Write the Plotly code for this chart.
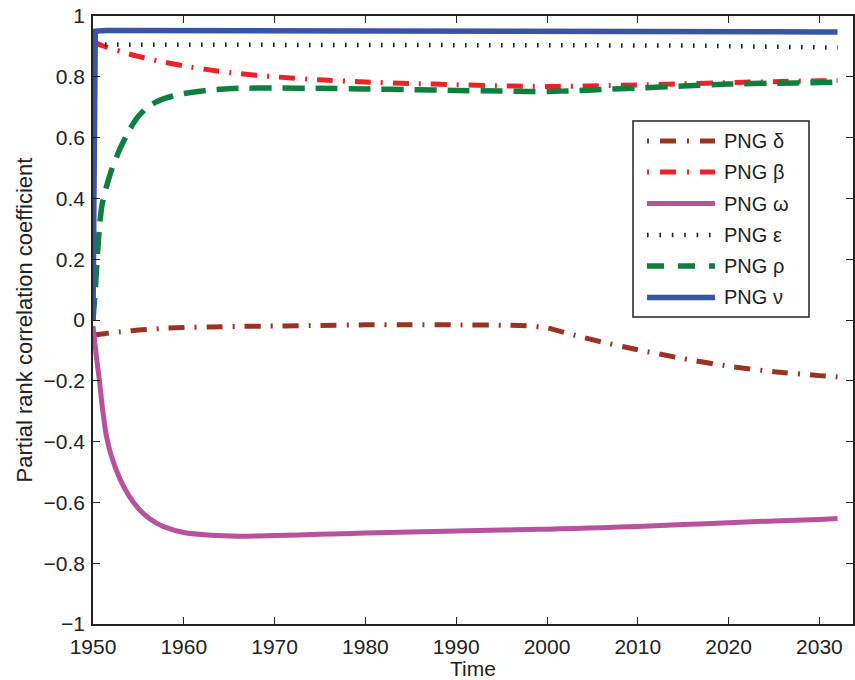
import plotly.graph_objects as go

# ---- data ----
time = [1950, 1950.25, 1950.5, 1950.75, 1951, 1951.5, 1952, 1953, 1954, 1955, 1956, 1957, 1958,
        1960, 1963, 1966, 1970, 1975, 1980, 1985, 1990, 1995, 1998, 2000, 2003, 2006, 2010,
        2015, 2020, 2025, 2030, 2032]

png_delta = [-0.05, -0.049, -0.048, -0.047, -0.046, -0.044, -0.042, -0.039, -0.036, -0.033, -0.031,
             -0.029, -0.027, -0.025, -0.023, -0.021, -0.02, -0.018, -0.016, -0.016, -0.016, -0.017,
             -0.019, -0.026, -0.05, -0.072, -0.098, -0.127, -0.152, -0.17, -0.183, -0.187]

png_beta = [0.915, 0.912, 0.909, 0.906, 0.903, 0.898, 0.893, 0.884, 0.875, 0.867, 0.86, 0.853, 0.847,
            0.836, 0.822, 0.811, 0.80, 0.79, 0.783, 0.778, 0.774, 0.77, 0.769, 0.768, 0.769, 0.771,
            0.773, 0.777, 0.781, 0.784, 0.787, 0.788]

png_omega = [-0.02, -0.09, -0.15, -0.21, -0.28, -0.385, -0.445, -0.525, -0.58, -0.62, -0.648, -0.668,
             -0.682, -0.699, -0.708, -0.711, -0.709, -0.705, -0.701, -0.697, -0.694, -0.691, -0.689,
             -0.688, -0.686, -0.683, -0.679, -0.673, -0.667, -0.661, -0.656, -0.653]

png_epsilon = [0.906, 0.906, 0.906, 0.906, 0.906, 0.906, 0.906, 0.906, 0.906, 0.906, 0.906, 0.906,
               0.906, 0.906, 0.906, 0.906, 0.906, 0.906, 0.906, 0.906, 0.906, 0.906, 0.906, 0.906,
               0.905, 0.905, 0.905, 0.903, 0.901, 0.899, 0.897, 0.896]

png_rho = [0.0, 0.1, 0.22, 0.32, 0.38, 0.44, 0.49, 0.565, 0.625, 0.67, 0.70, 0.718, 0.73, 0.745,
           0.757, 0.762, 0.763, 0.762, 0.76, 0.758, 0.755, 0.753, 0.752, 0.752, 0.754, 0.758,
           0.763, 0.77, 0.776, 0.779, 0.781, 0.782]

png_nu = [0.0, 0.95, 0.951, 0.952, 0.952, 0.952, 0.952, 0.952, 0.952, 0.952, 0.952, 0.952, 0.952,
          0.952, 0.952, 0.952, 0.952, 0.952, 0.952, 0.952, 0.952, 0.951, 0.951, 0.951, 0.951, 0.95,
          0.95, 0.949, 0.949, 0.948, 0.947, 0.947]

series_names = ["PNG δ", "PNG β", "PNG ω", "PNG ε", "PNG ρ", "PNG ν"]

x_ticks = [1950, 1960, 1970, 1980, 1990, 2000, 2010, 2020, 2030]
y_ticks = [-1, -0.8, -0.6, -0.4, -0.2, 0, 0.2, 0.4, 0.6, 0.8, 1]
y_tick_labels = ["\u22121", "\u22120.8", "\u22120.6", "\u22120.4", "\u22120.2", "0",
                 "0.2", "0.4", "0.6", "0.8", "1"]

# ---- styles ----
colors = ["#9a3322", "#ec2229", "#b8519e", "#222222", "#0f7f3f", "#3a54a4"]
widths = [5, 5, 5, 4.5, 5.5, 5.5]
dashes = ["16px,10px,2px,10px", "16px,10px,2px,10px", "solid", "1.6px,10.4px",
          "22px,11px", "solid"]
shapes_ = ["spline", "spline", "spline", "linear", "spline", "linear"]
legend_dashes = ["2px,11px,16px,11px", "2px,11px,16px,11px", "solid", "1.6px,10.8px",
                 "17px,14px", "solid"]
values = [png_delta, png_beta, png_omega, png_epsilon, png_rho, png_nu]

W, H = 855, 680
ML, MR, MT, MB = 93, 2, 16, 56
PW, PH = W - ML - MR, H - MT - MB


def px(x):
    return (x - ML) / PW


def py(y):
    return (H - MB - y) / PH


fig = go.Figure()
for name, vals, c, w, d, s in zip(series_names, values, colors, widths, dashes, shapes_):
    fig.add_trace(go.Scatter(x=time, y=vals, mode="lines", name=name,
                             line=dict(color=c, width=w, dash=d, shape=s, smoothing=0.6),
                             showlegend=False))

FONT = "Liberation Sans, Arial, Helvetica, sans-serif"
axis_common = dict(showline=True, linecolor="#222222", linewidth=1.5, mirror="ticks",
                   ticks="inside", ticklen=7, tickwidth=1, tickcolor="#222222",
                   showgrid=False, zeroline=False, automargin=False,
                   tickfont=dict(family=FONT, size=21, color="#222222"))

# ---- legend box drawn in the MATLAB style (long line samples) ----
shapes = [dict(type="rect", xref="paper", yref="paper", x0=px(633), x1=px(809),
               y0=py(317), y1=py(121), line=dict(color="#222222", width=1.5),
               fillcolor="white", layer="above")]
annotations = []
row_y = [141, 172, 203.5, 235, 266, 297.5]
for i, name in enumerate(series_names):
    yy = py(row_y[i])
    shapes.append(dict(type="line", xref="paper", yref="paper", x0=px(647), x1=px(715),
                       y0=yy, y1=yy, layer="above",
                       line=dict(color=colors[i], width=widths[i] if i != 3 else 4.5,
                                 dash=legend_dashes[i])))
    annotations.append(dict(text=name, xref="paper", yref="paper", x=px(722), y=yy,
                            xanchor="left", yanchor="middle", showarrow=False,
                            font=dict(family=FONT, size=20, color="#222222")))

fig.update_layout(
    width=W, height=H,
    margin=dict(l=ML, r=MR, t=MT, b=MB),
    paper_bgcolor="white", plot_bgcolor="white",
    font=dict(family=FONT, size=20, color="#222222"),
    showlegend=False,
    shapes=shapes,
    annotations=annotations,
    xaxis=dict(range=[1950, 2033.7], tickvals=x_ticks, ticklabelstandoff=3,
               title=dict(text="Time", font=dict(family=FONT, size=21), standoff=0),
               **axis_common),
    yaxis=dict(range=[-1, 1], tickvals=y_ticks, ticktext=y_tick_labels, ticklabelstandoff=2,
               title=dict(text="Partial rank correlation coefficient",
                          font=dict(family=FONT, size=22), standoff=5),
               **axis_common),
)

fig.write_html("out.html", config={"displayModeBar": False},
               post_script="document.body.style.margin='0';document.body.style.padding='0';")
